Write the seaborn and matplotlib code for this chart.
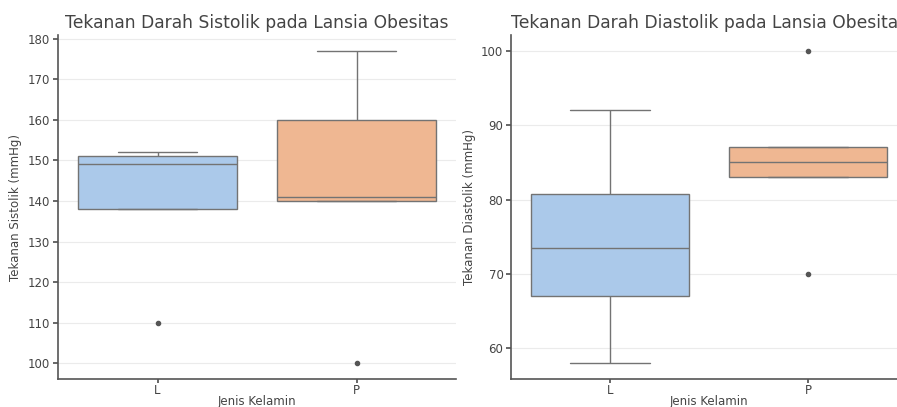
import numpy as np
import pandas as pd
import matplotlib
matplotlib.use("Agg")
import matplotlib.pyplot as plt
import seaborn as sns

# Blood pressure readings (mmHg) for obese elderly patients, by sex
sys_L = [110, 138, 138, 140, 149, 150, 151, 151, 152]
sys_P = [100, 140, 140, 141, 141, 160, 160, 177]
dia_L = [58, 60, 67, 67, 72, 75, 80, 81, 90, 92]
dia_P = [70, 83, 83, 85, 87, 87, 100]

groups = ["L", "P"]

sys_df = pd.DataFrame({
    "Jenis Kelamin": ["L"] * len(sys_L) + ["P"] * len(sys_P),
    "Sistolik": sys_L + sys_P,
})
dia_df = pd.DataFrame({
    "Jenis Kelamin": ["L"] * len(dia_L) + ["P"] * len(dia_P),
    "Diastolik": dia_L + dia_P,
})

sns.set_theme(style="ticks", palette="pastel")
plt.rcParams.update({
    "font.family": ["DejaVu Sans"],
    "axes.grid": True,
    "axes.grid.axis": "y",
    "grid.color": "#ebebeb",
    "grid.linewidth": 0.8,
    "axes.edgecolor": "#555555",
    "axes.linewidth": 1.2,
    "xtick.color": "#555555",
    "ytick.color": "#555555",
    "xtick.labelcolor": "#444444",
    "ytick.labelcolor": "#444444",
    "xtick.major.size": 3,
    "ytick.major.size": 3.5,
    "xtick.major.pad": 0.5,
    "ytick.major.pad": 2,
    "xtick.labelsize": 8.5,
    "ytick.labelsize": 8.5,
    "text.color": "#444444",
    "axes.labelcolor": "#444444",
})

fig = plt.figure(figsize=(8.97, 4.07), dpi=100)
ax1 = fig.add_axes([0.0647, 0.0688, 0.4437, 0.845])
ax2 = fig.add_axes([0.5697, 0.0688, 0.4415, 0.845])

pal = sns.color_palette("pastel")[:2]
flier_style = dict(marker="o", markerfacecolor="#555555", markeredgecolor="#555555",
                   markersize=3)

sns.boxplot(data=sys_df, x="Jenis Kelamin", y="Sistolik", hue="Jenis Kelamin",
            order=groups, hue_order=groups, palette=pal, legend=False,
            flierprops=flier_style, ax=ax1)
sns.boxplot(data=dia_df, x="Jenis Kelamin", y="Diastolik", hue="Jenis Kelamin",
            order=groups, hue_order=groups, palette=pal, legend=False,
            flierprops=flier_style, ax=ax2)

ax1.set_title("Tekanan Darah Sistolik pada Lansia Obesitas", fontsize=12.3, pad=5)
ax1.set_xlabel("Jenis Kelamin", fontsize=8.5, labelpad=-1)
ax1.set_ylabel("Tekanan Sistolik (mmHg)", fontsize=8.5, labelpad=4)

ax2.set_title("Tekanan Darah Diastolik pada Lansia Obesitas", fontsize=12.3, pad=5)
ax2.set_xlabel("Jenis Kelamin", fontsize=8.5, labelpad=-1)
ax2.set_ylabel("Tekanan Diastolik (mmHg)", fontsize=8.5, labelpad=4)

for ax in (ax1, ax2):
    ax.set_axisbelow(True)
    sns.despine(ax=ax)

fig.savefig("out.png", dpi=100)
